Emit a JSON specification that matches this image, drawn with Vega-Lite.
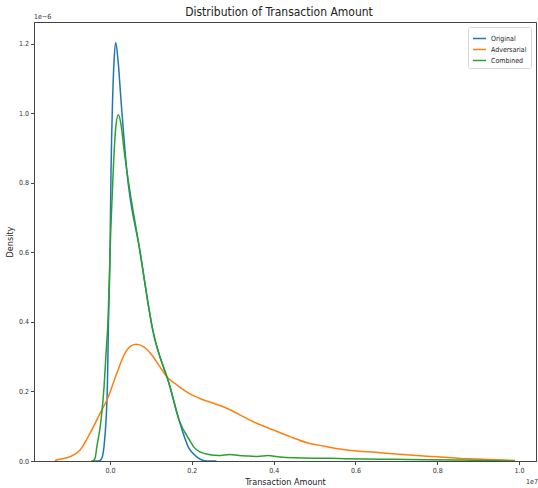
{
  "$schema": "https://vega.github.io/schema/vega-lite/v6.json",
  "width": 502,
  "height": 439,
  "autosize": {"type": "none"},
  "padding": {"left": 34, "top": 22, "right": 2, "bottom": 27},
  "background": "white",
  "config": {
    "font": "Liberation Sans Narrow, DejaVu Sans Condensed, Roboto Condensed, Liberation Sans, sans-serif",
    "view": {"stroke": "#444", "strokeWidth": 1},
    "axis": {"grid": false, "domainColor": "#444", "tickColor": "#444", "labelColor": "#333", "titleColor": "#222", "labelFont": "Liberation Sans Narrow, DejaVu Sans Condensed, Roboto Condensed, Liberation Sans, sans-serif", "titleFont": "Liberation Sans Narrow, DejaVu Sans Condensed, Roboto Condensed, Liberation Sans, sans-serif", "titleFontWeight": "normal"},
    "text": {"font": "Liberation Sans Narrow, DejaVu Sans Condensed, Roboto Condensed, Liberation Sans, sans-serif"}
  },
  "title": {"text": "Distribution of Transaction Amount", "fontSize": 12, "fontWeight": "normal", "font": "Liberation Sans Narrow, DejaVu Sans Condensed, Roboto Condensed, Liberation Sans, sans-serif", "color": "#222", "offset": -6, "dx": -6},
  "datasets": {
    "kde": [
      {"series": "Original", "amount": -0.04, "density": 0},
      {"series": "Original", "amount": -0.028, "density": 0.0},
      {"series": "Original", "amount": -0.021, "density": 0.006},
      {"series": "Original", "amount": -0.0147, "density": 0.043},
      {"series": "Original", "amount": -0.0098, "density": 0.118},
      {"series": "Original", "amount": -0.0066, "density": 0.213},
      {"series": "Original", "amount": -0.0042, "density": 0.377},
      {"series": "Original", "amount": 0.0, "density": 0.607},
      {"series": "Original", "amount": 0.0024, "density": 0.837},
      {"series": "Original", "amount": 0.0061, "density": 1.036},
      {"series": "Original", "amount": 0.0098, "density": 1.151},
      {"series": "Original", "amount": 0.0139, "density": 1.204},
      {"series": "Original", "amount": 0.0196, "density": 1.151},
      {"series": "Original", "amount": 0.0269, "density": 1.036},
      {"series": "Original", "amount": 0.0408, "density": 0.837},
      {"series": "Original", "amount": 0.0726, "density": 0.607},
      {"series": "Original", "amount": 0.1044, "density": 0.377},
      {"series": "Original", "amount": 0.1467, "density": 0.213},
      {"series": "Original", "amount": 0.1687, "density": 0.118},
      {"series": "Original", "amount": 0.1914, "density": 0.04},
      {"series": "Original", "amount": 0.212, "density": 0.012},
      {"series": "Original", "amount": 0.237, "density": 0.0},
      {"series": "Original", "amount": 0.26, "density": 0.0},
      {"series": "Adversarial", "amount": -0.135, "density": 0.001},
      {"series": "Adversarial", "amount": -0.13, "density": 0.003},
      {"series": "Adversarial", "amount": -0.0978, "density": 0.0124},
      {"series": "Adversarial", "amount": -0.0733, "density": 0.0317},
      {"series": "Adversarial", "amount": -0.0489, "density": 0.08},
      {"series": "Adversarial", "amount": -0.0244, "density": 0.137},
      {"series": "Adversarial", "amount": -0.0042, "density": 0.185},
      {"series": "Adversarial", "amount": 0.0163, "density": 0.252},
      {"series": "Adversarial", "amount": 0.0367, "density": 0.31},
      {"series": "Adversarial", "amount": 0.0489, "density": 0.329},
      {"series": "Adversarial", "amount": 0.0636, "density": 0.336},
      {"series": "Adversarial", "amount": 0.0815, "density": 0.329},
      {"series": "Adversarial", "amount": 0.102, "density": 0.305},
      {"series": "Adversarial", "amount": 0.122, "density": 0.271},
      {"series": "Adversarial", "amount": 0.1386, "density": 0.2426},
      {"series": "Adversarial", "amount": 0.163, "density": 0.219},
      {"series": "Adversarial", "amount": 0.1956, "density": 0.193},
      {"series": "Adversarial", "amount": 0.22, "density": 0.18},
      {"series": "Adversarial", "amount": 0.277, "density": 0.156},
      {"series": "Adversarial", "amount": 0.3587, "density": 0.1085},
      {"series": "Adversarial", "amount": 0.3993, "density": 0.0892},
      {"series": "Adversarial", "amount": 0.44, "density": 0.07},
      {"series": "Adversarial", "amount": 0.481, "density": 0.0527},
      {"series": "Adversarial", "amount": 0.5215, "density": 0.0432},
      {"series": "Adversarial", "amount": 0.5623, "density": 0.0345},
      {"series": "Adversarial", "amount": 0.603, "density": 0.029},
      {"series": "Adversarial", "amount": 0.65, "density": 0.025},
      {"series": "Adversarial", "amount": 0.7, "density": 0.02},
      {"series": "Adversarial", "amount": 0.75, "density": 0.016},
      {"series": "Adversarial", "amount": 0.8, "density": 0.012},
      {"series": "Adversarial", "amount": 0.85, "density": 0.008},
      {"series": "Adversarial", "amount": 0.9, "density": 0.0055},
      {"series": "Adversarial", "amount": 0.95, "density": 0.0035},
      {"series": "Adversarial", "amount": 0.99, "density": 0.0015},
      {"series": "Combined", "amount": -0.046, "density": 0},
      {"series": "Combined", "amount": -0.0416, "density": 0.001},
      {"series": "Combined", "amount": -0.0367, "density": 0.008},
      {"series": "Combined", "amount": -0.0325, "density": 0.04},
      {"series": "Combined", "amount": -0.022, "density": 0.118},
      {"series": "Combined", "amount": -0.0147, "density": 0.213},
      {"series": "Combined", "amount": -0.0098, "density": 0.311},
      {"series": "Combined", "amount": -0.0049, "density": 0.406},
      {"series": "Combined", "amount": 0.0017, "density": 0.665},
      {"series": "Combined", "amount": 0.0086, "density": 0.858},
      {"series": "Combined", "amount": 0.0134, "density": 0.953},
      {"series": "Combined", "amount": 0.0203, "density": 0.996},
      {"series": "Combined", "amount": 0.0269, "density": 0.967},
      {"series": "Combined", "amount": 0.0342, "density": 0.895},
      {"series": "Combined", "amount": 0.0408, "density": 0.837},
      {"series": "Combined", "amount": 0.0726, "density": 0.607},
      {"series": "Combined", "amount": 0.1044, "density": 0.377},
      {"series": "Combined", "amount": 0.1467, "density": 0.213},
      {"series": "Combined", "amount": 0.1687, "density": 0.118},
      {"series": "Combined", "amount": 0.1956, "density": 0.058},
      {"series": "Combined", "amount": 0.205, "density": 0.04},
      {"series": "Combined", "amount": 0.22, "density": 0.026},
      {"series": "Combined", "amount": 0.2445, "density": 0.018},
      {"series": "Combined", "amount": 0.265, "density": 0.016},
      {"series": "Combined", "amount": 0.2934, "density": 0.019},
      {"series": "Combined", "amount": 0.315, "density": 0.016},
      {"series": "Combined", "amount": 0.334, "density": 0.0144},
      {"series": "Combined", "amount": 0.36, "density": 0.013},
      {"series": "Combined", "amount": 0.387, "density": 0.0155},
      {"series": "Combined", "amount": 0.41, "density": 0.012},
      {"series": "Combined", "amount": 0.45, "density": 0.009},
      {"series": "Combined", "amount": 0.538, "density": 0.0078},
      {"series": "Combined", "amount": 0.619, "density": 0.0058},
      {"series": "Combined", "amount": 0.7, "density": 0.0049},
      {"series": "Combined", "amount": 0.78, "density": 0.0035},
      {"series": "Combined", "amount": 0.863, "density": 0.0029},
      {"series": "Combined", "amount": 0.897, "density": 0.002},
      {"series": "Combined", "amount": 0.95, "density": 0.0005},
      {"series": "Combined", "amount": 0.99, "density": 0}
    ],
    "offsets": [
      {"label": "1e−6", "amount": -0.186, "density": 1.263}
    ],
    "offsetsX": [
      {"label": "1e7", "amount": 1.0416, "density": 0}
    ]
  },
  "layer": [
    {
      "data": {"name": "kde"},
      "mark": {"type": "line", "strokeWidth": 1.5, "interpolate": "monotone", "clip": true},
      "encoding": {
        "x": {
          "field": "amount", "type": "quantitative",
          "scale": {"domain": [-0.186, 1.0416], "nice": false, "zero": false},
          "axis": {"values": [0, 0.2, 0.4, 0.6, 0.8, 1.0], "format": ".1f", "title": "Transaction Amount", "labelFontSize": 7, "titleFontSize": 9, "tickSize": 3.5, "labelPadding": 2, "titlePadding": 4}
        },
        "y": {
          "field": "density", "type": "quantitative",
          "scale": {"domain": [0, 1.263], "nice": false},
          "axis": {"values": [0, 0.2, 0.4, 0.6, 0.8, 1.0, 1.2], "format": ".1f", "title": "Density", "labelFontSize": 7, "titleFontSize": 9, "tickSize": 3.5, "labelPadding": 2, "titlePadding": 4}
        },
        "color": {
          "field": "series", "type": "nominal",
          "scale": {"domain": ["Original", "Adversarial", "Combined"], "range": ["#1f77b4", "#ff7f0e", "#2ca02c"]},
          "legend": {"title": null, "orient": "top-right", "offset": 5, "symbolType": "stroke", "symbolSize": 169, "symbolStrokeWidth": 1.5, "labelFontSize": 7, "labelColor": "#222", "rowPadding": 0, "padding": 4, "strokeColor": "#d8d8d8", "fillColor": "white", "cornerRadius": 2, "symbolOffset": 0, "labelOffset": 4}
        }
      }
    },
    {
      "data": {"name": "offsets"},
      "mark": {"type": "text", "align": "left", "baseline": "bottom", "dy": -2, "fontSize": 7, "color": "#333", "clip": false},
      "encoding": {
        "x": {"field": "amount", "type": "quantitative"},
        "y": {"field": "density", "type": "quantitative"},
        "text": {"field": "label"}
      }
    },
    {
      "data": {"name": "offsetsX"},
      "mark": {"type": "text", "align": "right", "baseline": "middle", "dy": 21, "dx": 2, "fontSize": 7, "color": "#333", "clip": false},
      "encoding": {
        "x": {"field": "amount", "type": "quantitative"},
        "y": {"field": "density", "type": "quantitative"},
        "text": {"field": "label"}
      }
    }
  ]
}
